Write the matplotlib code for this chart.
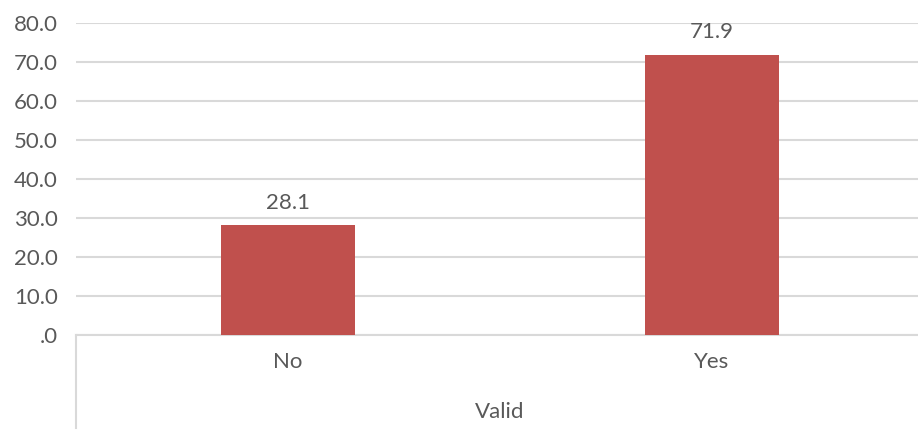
import matplotlib
matplotlib.use("Agg")
import matplotlib.pyplot as plt

# data
categories = ["No", "Yes"]
values = [28.1, 71.9]
group_label = "Valid"
yticks = [0, 10, 20, 30, 40, 50, 60, 70, 80]

bar_color = "#C0504D"
text_color = "#595959"
grid_color = "#D9D9D9"

plt.rcParams['font.family'] = ['Lato', 'DejaVu Sans']

fig = plt.figure(figsize=(9.18, 4.33), dpi=100)
# plot area runs a little past the right edge of the picture, like the original
ax = fig.add_axes([76 / 918, 98 / 433, 848 / 918, 312 / 433])

x = list(range(len(categories)))
bars = ax.bar(x, values, width=0.314, color=bar_color, zorder=3)

ax.set_xlim(-0.5, len(categories) - 0.5)
ax.set_ylim(0, 80)
ax.set_yticks(yticks)
ax.set_yticklabels(["." + "0" if v == 0 else f"{v:.1f}" for v in yticks])
ax.set_xticks(x)
ax.set_xticklabels(categories)

ax.tick_params(axis="y", length=0, pad=13, labelsize=16, labelcolor=text_color)
ax.tick_params(axis="x", length=0, pad=12, labelsize=16, labelcolor=text_color)

for s in ["top", "right", "left"]:
    ax.spines[s].set_visible(False)
ax.spines["bottom"].set_color(grid_color)
ax.spines["bottom"].set_linewidth(1.5)

ax.yaxis.grid(True, color=grid_color, linewidth=1.5, zorder=0)
ax.set_axisbelow(True)

# data labels
for b, v in zip(bars, values):
    ax.annotate(f"{v:.1f}", (b.get_x() + b.get_width() / 2, v),
                xytext=(0, 9), textcoords="offset points",
                ha="center", va="bottom", fontsize=16, color=text_color)

# group separator and label below the category axis
ax.plot([0, 0], [0, -93 / 312], transform=ax.transAxes, color=grid_color,
        linewidth=1.5, clip_on=False)
ax.text(0.5, -77 / 312, group_label, transform=ax.transAxes, ha="center",
        va="center", fontsize=16, color=text_color)

fig.savefig("out.png", dpi=100)
